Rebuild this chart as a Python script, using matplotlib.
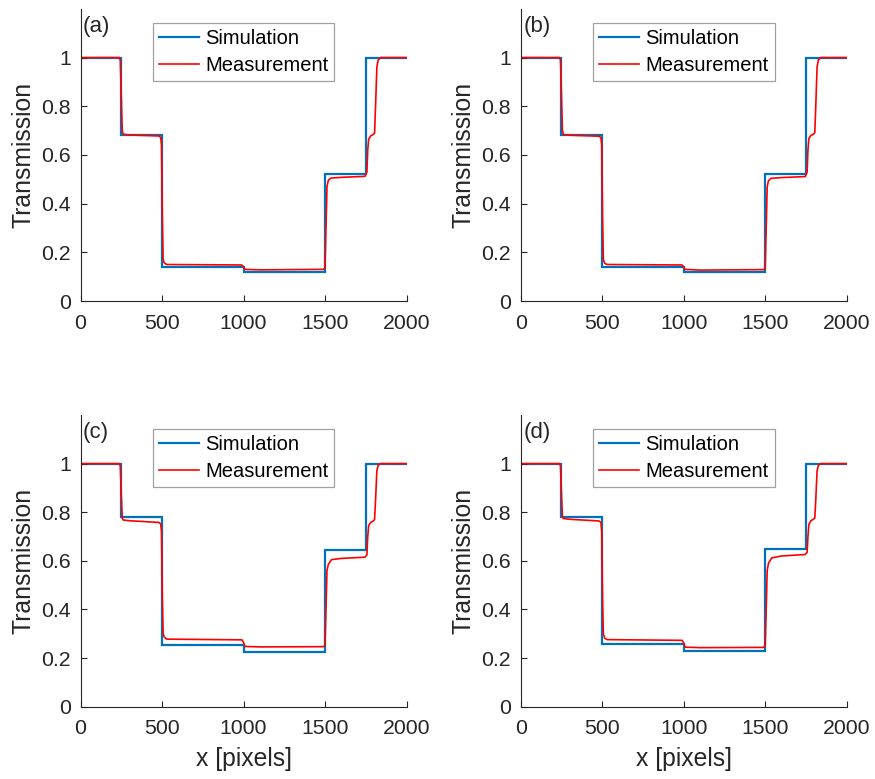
import matplotlib
matplotlib.use("Agg")
import matplotlib.pyplot as plt
import numpy as np

plt.rcParams['font.family'] = ['Liberation Sans', 'DejaVu Sans']

# simulated step profile: segment edges and transmission levels
edges = [0, 250, 500, 1000, 1500, 1750, 2000]
sim_levels = {
    'a': [1.0, 0.68, 0.14, 0.12, 0.52, 1.0],
    'b': [1.0, 0.68, 0.14, 0.12, 0.52, 1.0],
    'c': [1.0, 0.78, 0.252, 0.224, 0.646, 1.0],
    'd': [1.0, 0.78, 0.256, 0.228, 0.648, 1.0],
}

# measured profiles (x in pixels, transmission)
meas_x = {
    'a': [0, 238, 244, 250, 256, 262, 300, 480, 492, 497, 502, 507, 515, 530, 990, 1000, 1008, 1100,
          1490, 1500, 1506, 1512, 1520, 1535, 1600, 1745, 1757, 1762, 1768, 1780, 1798, 1804, 1810,
          1818, 1826, 1840, 2000],
    'b': [0, 238, 244, 250, 256, 262, 300, 480, 492, 497, 502, 507, 515, 530, 990, 1000, 1008, 1100,
          1490, 1500, 1506, 1512, 1520, 1535, 1600, 1745, 1757, 1762, 1768, 1780, 1798, 1804, 1810,
          1818, 1826, 1840, 2000],
    'c': [0, 238, 244, 250, 256, 262, 300, 480, 492, 497, 502, 507, 515, 530, 990, 1000, 1008, 1100,
          1490, 1500, 1506, 1512, 1520, 1540, 1600, 1745, 1757, 1762, 1768, 1780, 1798, 1804, 1810,
          1818, 1826, 1840, 2000],
    'd': [0, 238, 244, 250, 256, 262, 300, 480, 492, 497, 502, 507, 515, 530, 990, 1000, 1008, 1100,
          1490, 1500, 1506, 1512, 1520, 1540, 1600, 1745, 1757, 1762, 1768, 1780, 1798, 1804, 1810,
          1818, 1826, 1840, 2000],
}
meas_y = {
    'a': [1.0, 1.0, 0.99, 0.85, 0.70, 0.685, 0.682, 0.678, 0.672, 0.64, 0.35, 0.17, 0.155, 0.15,
          0.148, 0.14, 0.13, 0.128, 0.13, 0.135, 0.30, 0.47, 0.495, 0.505, 0.508, 0.512, 0.53, 0.62,
          0.665, 0.678, 0.685, 0.69, 0.80, 0.96, 0.99, 1.0, 1.0],
    'b': [1.0, 1.0, 0.99, 0.85, 0.70, 0.684, 0.681, 0.677, 0.671, 0.64, 0.35, 0.17, 0.155, 0.15,
          0.148, 0.14, 0.13, 0.127, 0.129, 0.134, 0.30, 0.47, 0.494, 0.504, 0.507, 0.511, 0.53, 0.62,
          0.668, 0.68, 0.686, 0.692, 0.80, 0.96, 0.99, 1.0, 1.0],
    'c': [1.0, 1.0, 0.99, 0.88, 0.775, 0.768, 0.765, 0.758, 0.752, 0.72, 0.45, 0.30, 0.285, 0.278,
          0.275, 0.265, 0.248, 0.246, 0.247, 0.252, 0.40, 0.56, 0.585, 0.605, 0.61, 0.615, 0.625, 0.70,
          0.745, 0.758, 0.765, 0.77, 0.85, 0.97, 0.993, 1.0, 1.0],
    'd': [1.0, 1.0, 0.99, 0.88, 0.78, 0.774, 0.771, 0.764, 0.758, 0.72, 0.45, 0.30, 0.282, 0.276,
          0.273, 0.262, 0.245, 0.243, 0.244, 0.25, 0.40, 0.56, 0.59, 0.612, 0.62, 0.626, 0.635, 0.70,
          0.75, 0.765, 0.772, 0.776, 0.85, 0.97, 0.993, 1.0, 1.0],
}

panels = ['a', 'b', 'c', 'd']
yticks = [0, 0.2, 0.4, 0.6, 0.8, 1]
ytick_labels = ['0', '0.2', '0.4', '0.6', '0.8', '1']
xticks = [0, 500, 1000, 1500, 2000]

sim_color = '#0072BD'
meas_color = '#FF0000'
axis_color = '#262626'

fig = plt.figure(figsize=(8.75, 7.79), dpi=100)

# [left, bottom, width, height] in figure fraction
positions = {
    'a': [0.0920, 0.6136, 0.3726, 0.3750],
    'b': [0.5951, 0.6136, 0.3726, 0.3750],
    'c': [0.0920, 0.0928, 0.3726, 0.3745],
    'd': [0.5951, 0.0928, 0.3726, 0.3745],
}

for p in panels:
    ax = fig.add_axes(positions[p])
    ax.stairs(sim_levels[p], edges, baseline=None, color=sim_color, lw=1.6, label='Simulation')
    ax.plot(meas_x[p], meas_y[p], color=meas_color, lw=1.2, label='Measurement')

    ax.set_xlim(0, 2000)
    ax.set_ylim(0, 1.2)
    ax.set_xticks(xticks)
    ax.set_yticks(yticks)
    ax.set_yticklabels(ytick_labels)
    ax.tick_params(direction='in', length=4, width=0.8, colors=axis_color, labelsize=15.3)
    ax.tick_params(axis='x', pad=9)
    ax.tick_params(axis='y', pad=7)
    for side in ['top', 'right']:
        ax.spines[side].set_visible(False)
    for side in ['left', 'bottom']:
        ax.spines[side].set_color(axis_color)
        ax.spines[side].set_linewidth(0.8)

    ax.set_ylabel('Transmission', fontsize=17.8, color=axis_color, labelpad=4)
    if p in ('c', 'd'):
        ax.set_xlabel('x [pixels]', fontsize=17.8, color=axis_color, labelpad=6)

    ax.text(0.008, 0.975, '(%s)' % p, transform=ax.transAxes, fontsize=16,
            color=axis_color, va='top', ha='left')

    leg = ax.legend(loc='upper center', bbox_to_anchor=(0.5, 0.952), fontsize=14.5,
                    fancybox=False, framealpha=1, edgecolor='#a0a0a0', handlelength=2.0,
                    handletextpad=0.3, labelspacing=0.38, borderpad=0.3, borderaxespad=0)
    leg.get_frame().set_linewidth(0.9)
    for t in leg.get_texts():
        t.set_color('#000000')

fig.savefig('out.png', dpi=100)
